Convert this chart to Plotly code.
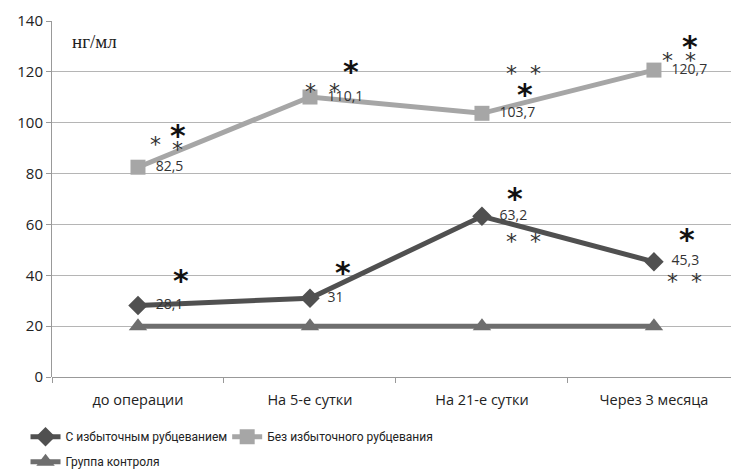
import plotly.graph_objects as go

categories = ["до операции", "На 5-е сутки", "На 21-е сутки", "Через 3 месяца"]
excess_scar = [28.1, 31, 63.2, 45.3]
no_excess_scar = [82.5, 110.1, 103.7, 120.7]
control = [20, 20, 20, 20]

series_names = ["С избыточным рубцеванием", "Без избыточного рубцевания", "Группа контроля"]
y_ticks = [0, 20, 40, 60, 80, 100, 120, 140]

# significance marks: (category position, value, size class)
stars = [
    (0.10, 92, "s"), (0.23, 90, "s"), (0.23, 96, "b"),
    (0.25, 39, "b"),
    (1.005, 113, "s"), (1.145, 113, "s"), (1.24, 121, "b"),
    (1.19, 42, "b"),
    (2.17, 120, "s"), (2.31, 120, "s"), (2.25, 112, "b"),
    (2.19, 71, "b"), (2.17, 54, "s"), (2.31, 54, "s"),
    (3.21, 131, "b"), (3.08, 125, "s"), (3.21, 125, "s"),
    (3.19, 55, "b"), (3.11, 38, "s"), (3.25, 38, "s"),
]


def fmt(v):
    return "\u00a0\u00a0" + str(v).replace(".", ",")


FONT = "Open Sans"
LEGEND_FONT = "Roboto"
fig = go.Figure()

fig.add_trace(go.Scatter(
    x=categories, y=excess_scar, name=series_names[0],
    mode="lines+markers+text", text=[fmt(v) for v in excess_scar],
    textposition="middle right", textfont=dict(size=14, color="#333333", family=FONT),
    line=dict(color="#505050", width=5),
    marker=dict(symbol="diamond", size=15, color="#505050"),
    legend="legend",
))
fig.add_trace(go.Scatter(
    x=categories, y=no_excess_scar, name=series_names[1],
    mode="lines+markers+text", text=[fmt(v) for v in no_excess_scar],
    textposition="middle right", textfont=dict(size=14, color="#333333", family=FONT),
    line=dict(color="#a6a6a6", width=5),
    marker=dict(symbol="square", size=15, color="#a6a6a6"),
    legend="legend2",
))
fig.add_trace(go.Scatter(
    x=categories, y=control, name=series_names[2],
    mode="lines+markers",
    line=dict(color="#6e6e6e", width=5),
    marker=dict(symbol="triangle-up", size=16, color="#6e6e6e"),
    legend="legend3",
))

for xo, yv, kind in stars:
    big = kind == "b"
    fig.add_annotation(
        x=xo, y=yv, xref="x", yref="y", text="<b>*</b>" if big else "*",
        showarrow=False,
        font=dict(size=30 if big else 22, color="#111111" if big else "#333333",
                  family="DejaVu Sans"),
        yshift=-2.5 if big else -1.5,
    )

fig.add_annotation(
    x=0.027, y=132, xref="paper", yref="y", text="нг/мл", showarrow=False,
    xanchor="left", font=dict(size=19, family="Liberation Serif", color="#222222"),
)

legend_common = dict(
    orientation="h", xanchor="left", yanchor="middle", itemwidth=30,
    font=dict(size=12, family=LEGEND_FONT, color="#222222"),
    bgcolor="rgba(0,0,0,0)", borderwidth=0,
)

fig.update_layout(
    width=731, height=472,
    margin=dict(l=52, r=0, t=21, b=95, autoexpand=False),
    plot_bgcolor="white", paper_bgcolor="white",
    font=dict(family=FONT, size=14, color="#222222"),
    showlegend=True,
    legend=dict(x=-0.039, y=-0.168, **legend_common),
    legend2=dict(x=0.258, y=-0.168, **legend_common),
    legend3=dict(x=-0.039, y=-0.238, **legend_common),
    xaxis=dict(
        type="category", range=[-0.5, 3.448], tickson="boundaries",
        ticks="outside", ticklen=5, tickcolor="#999999", ticklabelstandoff=12,
        showgrid=False, showline=False, zeroline=False,
        tickfont=dict(size=14.5, family=FONT, color="#222222"),
    ),
    yaxis=dict(
        range=[0, 140], tickvals=y_ticks, ticks="outside", ticklen=5,
        tickcolor="#999999", showgrid=True, gridcolor="#b5b5b5", gridwidth=1,
        showline=True, linecolor="#999999", linewidth=1,
        zeroline=True, zerolinecolor="#999999", zerolinewidth=1,
        tickfont=dict(size=15, family=FONT, color="#222222"),
    ),
)

fig.write_html("out.html")
